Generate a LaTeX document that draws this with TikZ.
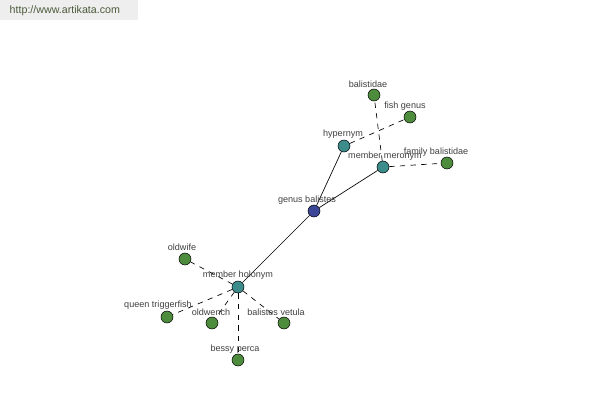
\documentclass[tikz,border=0pt]{standalone}
\usepackage{fontspec}
\setmainfont{Liberation Sans}
\usepackage{xcolor}
\usepackage{tikz}
\usetikzlibrary{positioning,backgrounds}

\definecolor{hub}{HTML}{3C4696}
\definecolor{rel}{HTML}{3C8C8C}
\definecolor{leaf}{HTML}{4C8C3C}
\definecolor{lbltext}{HTML}{404040}
\definecolor{urlback}{HTML}{EEEEEE}
\definecolor{urltext}{HTML}{4B5A3A}

\tikzset{
	dot/.style={circle, draw=black, line width=0.4pt, minimum size=9pt, inner sep=0pt},
	hubdot/.style={dot, fill=hub},
	reldot/.style={dot, fill=rel},
	leafdot/.style={dot, fill=leaf},
	lbl/.style={font=\fontsize{6.8}{7}\selectfont, text=lbltext, inner sep=0pt},
	solidlink/.style={black, line width=0.5pt},
	dashlink/.style={black, line width=0.5pt, dash pattern=on 4pt off 4pt}
}

\begin{document}
\begin{tikzpicture}[x=0.75pt, y=0.75pt]
	% Khung ảnh 600 x 400
	\useasboundingbox (0, 0) rectangle (600, -400);
	
	% Dòng địa chỉ trang
	\node[anchor=west, font=\fontsize{8}{9}\selectfont, text=urltext] (url) at (5, -11) {http://www.artikata.com};
	
	% --- CÁC NÚT ---
	\node[hubdot] (genus) at (314, -211) {};
	\node[reldot] (hyper) at (344, -146) {};
	\node[reldot] (meron) at (383, -167) {};
	\node[reldot] (holon) at (238, -287) {};
	
	% Tọa độ / tên của các nút lá
	\foreach \x/\y/\n in {374/95/balis, 410/117/fishg, 447/163/famb,
		185/259/oldwi, 167/317/queen, 212/323/oldwe,
		284/323/vetul, 238/360/bessy} {
		\node[leafdot] (\n) at (\x, -\y) {};
	}
	
	% --- NHÃN ---
	\foreach \x/\y/\t in {307/200/genus balistes, 343/134/hypernym, 385/156/member meronym,
		238/275/member holonym, 368/84/balistidae, 405/106/fish genus,
		436/152/family balistidae, 182/247/oldwife, 158/305/queen triggerfish,
		211/312/oldwench, 276/312/balistes vetula, 235/349/bessy perca} {
		\node[lbl] at (\x, -\y) {\t};
	}
	
	% --- NỀN VÀ CẠNH (nằm dưới các nút) ---
	\begin{scope}[on background layer]
		\fill[white] (0, 0) rectangle (600, -400);
		\fill[urlback] (0, 0) rectangle (138, -20);
		
		\draw[solidlink] (genus) -- (hyper);
		\draw[solidlink] (genus) -- (meron);
		\draw[solidlink] (genus) -- (holon);
		
		\draw[dashlink] (hyper) -- (fishg);
		\draw[dashlink] (meron) -- (balis);
		\draw[dashlink] (meron) -- (famb);
		
		\foreach \n in {oldwi, queen, oldwe, vetul, bessy} {
			\draw[dashlink] (holon) -- (\n);
		}
	\end{scope}
	
\end{tikzpicture}
\end{document}
